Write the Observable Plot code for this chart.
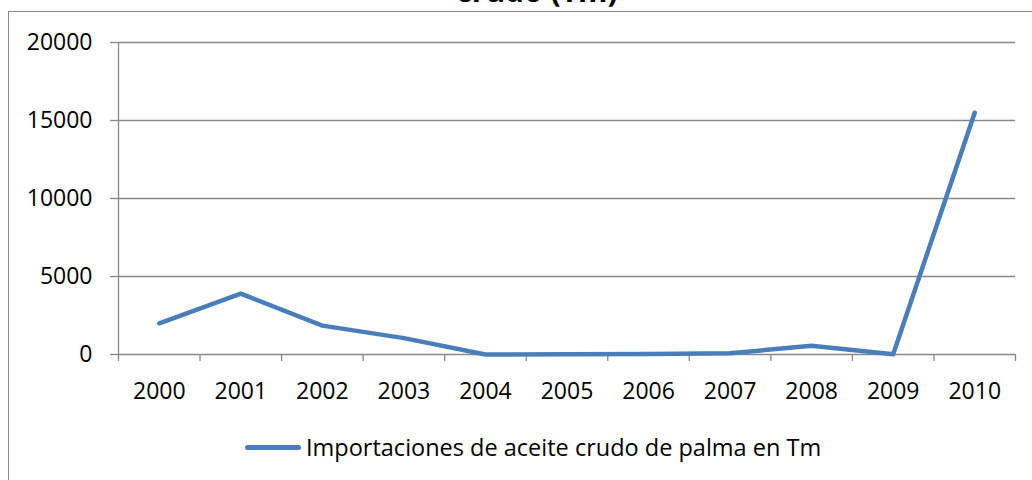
<!DOCTYPE html>
<html>
<head>
<meta charset="utf-8">
<script src="https://cdn.jsdelivr.net/npm/d3@7"></script>
<script src="https://cdn.jsdelivr.net/npm/@observablehq/plot@0.6"></script>
<style>
  html, body { margin: 0; padding: 0; background: #fff; }
  #wrap { position: relative; width: 1032px; height: 480px; overflow: hidden; font-family: "Open Sans", sans-serif; }
  #box { position: absolute; left: 8px; top: 11px; width: 1100px; height: 600px; border: 1.5px solid #898989; }
  #title { position: absolute; left: 0; width: 1074px; top: -66px; text-align: center; font-weight: bold; font-size: 30px; line-height: 38px; color: #000; }
  #chart { position: absolute; left: 0; top: 0; }
  #legend { position: absolute; left: 245px; top: 432px; height: 30px; display: flex; align-items: center; font-size: 23.5px; color: #000; white-space: nowrap; }
  #legend .sw { width: 56px; height: 5px; border-radius: 3px; background: #4a7ebb; margin-right: 5px; }
</style>
</head>
<body>
<div id="wrap">
  <div id="box"></div>
  <div id="title"></div>
  <div id="chart"></div>
  <div id="legend"><span class="sw"></span><span id="legtext"></span></div>
</div>
<script>
const titleLines = ["Importaciones de aceite", "crudo (Tm)"];
const years = [2000, 2001, 2002, 2003, 2004, 2005, 2006, 2007, 2008, 2009, 2010];
const imports = [2000, 3900, 1850, 1050, 0, 20, 30, 80, 560, 10, 15500];
const yTicks = [0, 5000, 10000, 15000, 20000];
const seriesName = "Importaciones de aceite crudo de palma en Tm";

document.getElementById("title").innerHTML = titleLines.join("<br>");
document.getElementById("legtext").textContent = seriesName;

const data = years.map((y, i) => ({year: y, value: imports[i]}));
const boundaries = years.map(y => y - 0.5).concat([years[years.length - 1] + 0.5]);
const gray = "#898989";

const chart = Plot.plot({
  width: 1032,
  height: 400,
  marginLeft: 118,
  marginRight: 17,
  marginTop: 42,
  marginBottom: 46,
  style: {fontFamily: "Open Sans", fontSize: "23px", color: "#000", background: "transparent", overflow: "visible"},
  x: {domain: [boundaries[0], boundaries[boundaries.length - 1]]},
  y: {domain: [0, 20000]},
  marks: [
    Plot.ruleY(yTicks, {stroke: gray, strokeWidth: 1.3}),
    Plot.ruleX([boundaries[0]], {stroke: gray, strokeWidth: 1.3}),
    Plot.axisY({ticks: yTicks, tickSize: 8, tickPadding: 18, stroke: gray, strokeWidth: 1.3, strokeOpacity: 1, label: null, tickFormat: d => String(d)}),
    Plot.axisX({ticks: boundaries, tickSize: 7, stroke: gray, strokeWidth: 1.3, strokeOpacity: 1, tickFormat: () => "", label: null}),
    Plot.axisX({ticks: years, tickSize: 0, tickPadding: 28, label: null, tickFormat: d => String(d)}),
    Plot.line(data, {x: "year", y: "value", stroke: "#4a7ebb", strokeWidth: 4.5, strokeLinecap: "round", strokeLinejoin: "round"})
  ]
});
document.getElementById("chart").appendChild(chart);
</script>
</body>
</html>
